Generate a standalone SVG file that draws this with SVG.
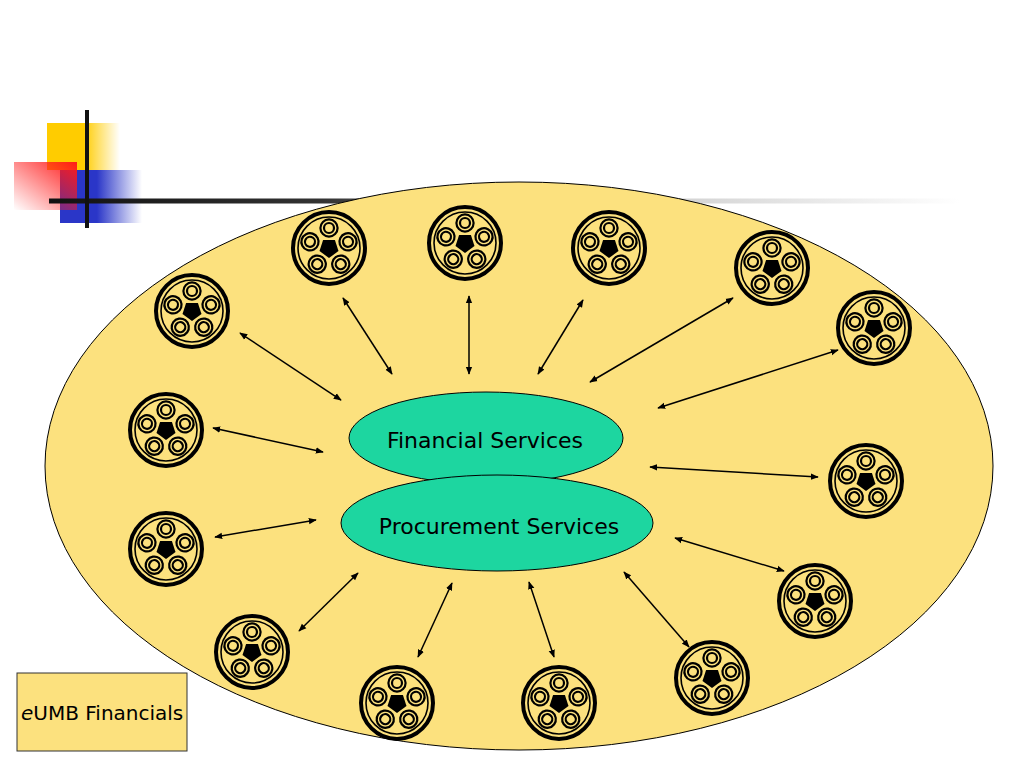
<svg xmlns="http://www.w3.org/2000/svg" xmlns:xlink="http://www.w3.org/1999/xlink" width="1024" height="768" viewBox="0 0 1024 768">
<style>
.txt{font-family:"DejaVu Sans",Verdana,sans-serif;fill:#000}
.conn line{stroke:#000;stroke-width:1.5;marker-start:url(#ah);marker-end:url(#ah)}
.ring{fill:none;stroke:#000}
</style>
<defs>
<linearGradient id="gy" x1="0" y1="0" x2="1" y2="0">
<stop offset="0" stop-color="#FFCC00"/><stop offset="0.5" stop-color="#FFCC00"/><stop offset="1" stop-color="#FFCC00" stop-opacity="0"/>
</linearGradient>
<linearGradient id="gb" x1="0" y1="0" x2="1" y2="0">
<stop offset="0" stop-color="#2A36C8"/><stop offset="0.45" stop-color="#2A36C8"/><stop offset="1" stop-color="#2A36C8" stop-opacity="0"/>
</linearGradient>
<linearGradient id="gr" x1="1" y1="0" x2="0" y2="1">
<stop offset="0" stop-color="#FF1A1A"/><stop offset="1" stop-color="#FF1A1A" stop-opacity="0"/>
</linearGradient>
<linearGradient id="gl" x1="49" y1="0" x2="960" y2="0" gradientUnits="userSpaceOnUse">
<stop offset="0" stop-color="#111"/><stop offset="0.3" stop-color="#333"/><stop offset="0.7" stop-color="#d4d4d4"/><stop offset="1" stop-color="#fff"/>
</linearGradient>
<marker id="ah" viewBox="0 0 10 10" refX="9" refY="5" markerWidth="8" markerHeight="8" orient="auto-start-reverse" markerUnits="userSpaceOnUse">
<path d="M0,1 L10,5 L0,9 Z" fill="#000"/>
</marker>
<g id="cable">
<circle r="36" fill="#FCE17E" stroke="#000" stroke-width="4"/>
<circle r="31" class="ring" stroke-width="1.6"/>
<polygon points="0,10 9.5,3.1 5.9,-8.1 -5.9,-8.1 -9.5,3.1" fill="#000"/>
<g id="sub">
<circle cx="0" cy="-20" r="8.6" fill="#FCE17E" stroke="#000" stroke-width="2.2"/>
<circle cx="0" cy="-20" r="5" class="ring" stroke-width="2.2"/>
</g>
<use xlink:href="#sub" transform="rotate(72)"/>
<use xlink:href="#sub" transform="rotate(144)"/>
<use xlink:href="#sub" transform="rotate(216)"/>
<use xlink:href="#sub" transform="rotate(288)"/>
</g>
</defs>
<rect width="1024" height="768" fill="#fff"/>
<g id="decoration">
<rect x="47" y="123" width="73" height="47" fill="url(#gy)"/>
<rect x="60" y="170" width="82" height="53" fill="url(#gb)"/>
<rect x="14" y="162" width="63" height="48" fill="url(#gr)"/>
<rect x="49" y="198.5" width="911" height="5" fill="url(#gl)"/>
<rect x="85" y="110" width="4" height="118" fill="#111"/>
</g>
<g id="domain">
<ellipse cx="519" cy="466" rx="474" ry="284" fill="#FCE17E" stroke="#000" stroke-width="1"/>
</g>
<g id="clients">
<use id="c1" xlink:href="#cable" transform="translate(192,311)"/>
<use id="c2" xlink:href="#cable" transform="translate(329,248)"/>
<use id="c3" xlink:href="#cable" transform="translate(465,243)"/>
<use id="c4" xlink:href="#cable" transform="translate(609,248)"/>
<use id="c5" xlink:href="#cable" transform="translate(772,268)"/>
<use id="c6" xlink:href="#cable" transform="translate(874,328)"/>
<use id="c7" xlink:href="#cable" transform="translate(166,430)"/>
<use id="c8" xlink:href="#cable" transform="translate(166,549)"/>
<use id="c9" xlink:href="#cable" transform="translate(866,481)"/>
<use id="c10" xlink:href="#cable" transform="translate(815,601)"/>
<use id="c11" xlink:href="#cable" transform="translate(252,652)"/>
<use id="c12" xlink:href="#cable" transform="translate(397,703)"/>
<use id="c13" xlink:href="#cable" transform="translate(559,703)"/>
<use id="c14" xlink:href="#cable" transform="translate(712,678)"/>
</g>
<g id="connectors" class="conn">
<line x1="240" y1="333" x2="341" y2="400"/>
<line x1="343" y1="298" x2="392" y2="374"/>
<line x1="469" y1="296" x2="469" y2="374"/>
<line x1="583" y1="300" x2="538" y2="374"/>
<line x1="733" y1="298" x2="590" y2="382"/>
<line x1="838" y1="350" x2="658" y2="408"/>
<line x1="213" y1="428" x2="323" y2="452"/>
<line x1="215" y1="537" x2="316" y2="520"/>
<line x1="818" y1="477" x2="650" y2="467"/>
<line x1="784" y1="571" x2="675" y2="538"/>
<line x1="299" y1="631" x2="358" y2="573"/>
<line x1="418" y1="657" x2="452" y2="583"/>
<line x1="554" y1="657" x2="529" y2="582"/>
<line x1="689" y1="647" x2="624" y2="572"/>
</g>
<g id="financial">
<ellipse cx="486" cy="438" rx="137" ry="46" fill="#1DD6A0" stroke="#000" stroke-width="1"/>
<text class="txt" x="485" y="448" font-size="22" text-anchor="middle">Financial Services</text>
</g>
<g id="procurement">
<ellipse cx="497" cy="523" rx="156" ry="48" fill="#1DD6A0" stroke="#000" stroke-width="1"/>
<text class="txt" x="499" y="534" font-size="22" text-anchor="middle">Procurement Services</text>
</g>
<g id="label">
<rect x="17" y="673" width="170" height="78" fill="#FCE17E" stroke="#333" stroke-width="1"/>
<text class="txt" x="21" y="720" font-size="20"><tspan font-style="italic">e</tspan>UMB Financials</text>
</g>
</svg>
